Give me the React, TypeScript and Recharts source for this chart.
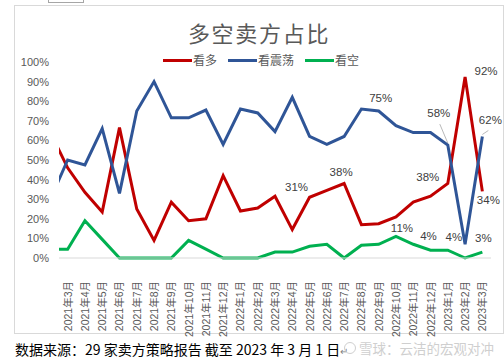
import { LineChart, Line, XAxis, YAxis, LabelList } from 'recharts'

// monthly share of sell-side reports (%), first entry sits just left of the plot edge
const MONTHS = [
  '2021年2月', '2021年3月', '2021年4月', '2021年5月', '2021年6月', '2021年7月', '2021年8月',
  '2021年9月', '2021年10月', '2021年11月', '2021年12月', '2022年1月', '2022年2月', '2022年3月',
  '2022年4月', '2022年5月', '2022年6月', '2022年7月', '2022年8月', '2022年9月', '2022年10月',
  '2022年11月', '2022年12月', '2023年1月', '2023年2月', '2023年3月',
]
const BULL = [64, 46, 33.5, 23.5, 66.5, 25, 9, 28.5, 19, 20, 42, 24, 25.5, 31.5, 14.5, 31, 34.5, 38, 17, 17.5, 21, 28.5, 31.5, 38, 92.4, 34]
const RANGE = [30, 50, 47.5, 66, 33, 75, 90, 71.5, 71.5, 75.5, 58, 76, 74, 64.5, 82, 62, 58, 62, 76, 75, 67.5, 64, 64, 57.6, 7, 62]
const BEAR = [4.5, 4.5, 19, 9.5, 0, 0, 0, 0, 9, 4.5, 0, 0, 0, 3, 3, 6, 7, 0, 6.5, 7, 11, 7, 4, 4, 0, 3]
const Y_TICKS = [0, 10, 20, 30, 40, 50, 60, 70, 80, 90, 100]

const RED = '#C00000'
const BLUE = '#2F5597'
const GREEN = '#00B050'
const TEXT = '#595959'
const NUM_FONT = '"Liberation Sans", Arial, sans-serif'
const CJK_FONT = '"Noto Sans CJK SC", "Noto Sans", sans-serif'

const data = MONTHS.map((month, k) => ({
  i: k - 1,
  month,
  bull: BULL[k],
  range: RANGE[k],
  bear: BEAR[k],
}))
const xTicks = data.filter(d => d.i >= 0).map(d => d.i)

type Pos = { dx: number; dy: number; leader?: [number, number] }
// where each shown data label sits relative to its point
const RED_LABELS: Record<number, Pos> = {
  14: { dx: -13, dy: -10 },
  16: { dx: -3, dy: -12 },
  22: { dx: -20, dy: -7 },
  23: { dx: 21, dy: -6 },
  24: { dx: 6, dy: 9 },
}
const BLUE_LABELS: Record<number, Pos> = {
  18: { dx: 2, dy: -13 },
  22: { dx: -9, dy: -32, leader: [-8, -21] },
  24: { dx: 8, dy: -16, leader: [6, -6] },
}
const GREEN_LABELS: Record<number, Pos> = {
  19: { dx: 6, dy: -8 },
  21: { dx: -2, dy: -14 },
  22: { dx: 6, dy: -13 },
  24: { dx: 1, dy: -14 },
}

function makeLabel(conf: Record<number, Pos>) {
  return (props: any) => {
    const { x, y, index, value } = props
    const row = data[index]
    if (!row) return null
    const p = conf[row.i]
    if (!p) return null
    return (
      <g key={`l-${index}`}>
        {p.leader && (
          <line x1={x + p.leader[0]} y1={y + p.leader[1]} x2={x} y2={y - 2} stroke="#a6a6a6" strokeWidth={0.8} />
        )}
        <text
          x={x + p.dx}
          y={y + p.dy}
          textAnchor="middle"
          dominantBaseline="central"
          fontSize={11.5}
          fontFamily={NUM_FONT}
          fill="#404040"
        >
          {`${Math.round(value)}%`}
        </text>
      </g>
    )
  }
}

function MonthTick(props: any) {
  const { x, y, payload } = props
  const label = MONTHS[payload.value + 1]
  return (
    <text
      transform={`translate(${x},${y + 15}) rotate(-90)`}
      textAnchor="end"
      dominantBaseline="central"
      fontSize={10.5}
      fontFamily={NUM_FONT + ', "Noto Sans CJK SC"'}
      fill={TEXT}
    >
      {label}
    </text>
  )
}

const LEGEND = [
  { name: '看多', color: RED },
  { name: '看震荡', color: BLUE },
  { name: '看空', color: GREEN },
]

export default function App() {
  return (
    <div style={{ position: 'absolute', left: 0, top: 0, width: 504, height: 358, background: '#fff', overflow: 'hidden' }}>
      <div style={{ position: 'absolute', left: 48, top: -2, width: 34, height: 4, border: '1px solid #a6a6a6', borderTop: 'none' }} />
      <div style={{ position: 'absolute', left: 14, top: 5, width: 488, height: 327, border: '1px solid #d9d9d9' }} />

      <div style={{
        position: 'absolute', left: 0, width: 518, top: 18, textAlign: 'center',
        fontFamily: CJK_FONT, fontSize: 22, letterSpacing: 1.7, color: TEXT, lineHeight: '28px',
      }}>
        多空卖方占比
      </div>

      <div style={{ position: 'absolute', left: 163, top: 52, display: 'flex', gap: 11, alignItems: 'center' }}>
        {LEGEND.map(item => (
          <div key={item.name} style={{ display: 'flex', alignItems: 'center', gap: 1 }}>
            <div style={{ width: 29, height: 3, background: item.color }} />
            <span style={{ fontFamily: CJK_FONT, fontSize: 12, color: TEXT, lineHeight: '16px' }}>{item.name}</span>
          </div>
        ))}
      </div>

      <div style={{ position: 'absolute', left: 0, top: 0 }}>
        <LineChart width={504} height={340} data={data} margin={{ top: 62, right: 13, bottom: 7, left: 9 }}>
          <XAxis
            type="number"
            dataKey="i"
            domain={[-0.5, 24.5]}
            allowDataOverflow
            ticks={xTicks}
            interval={0}
            height={75}
            tick={<MonthTick />}
            tickLine={false}
            axisLine={{ stroke: '#d9d9d9', strokeWidth: 1 }}
          />
          <YAxis
            domain={[0, 100]}
            ticks={Y_TICKS}
            width={50}
            tickFormatter={(v: number) => `${v}%`}
            tick={{ fontSize: 11, fill: TEXT, fontFamily: NUM_FONT }}
            tickMargin={4}
            axisLine={false}
            tickLine={false}
          />
          <Line type="linear" dataKey="bull" stroke={RED} strokeWidth={3} dot={false} isAnimationActive={false}>
            <LabelList dataKey="bull" content={makeLabel(RED_LABELS)} />
          </Line>
          <Line type="linear" dataKey="range" stroke={BLUE} strokeWidth={3} dot={false} isAnimationActive={false}>
            <LabelList dataKey="range" content={makeLabel(BLUE_LABELS)} />
          </Line>
          <Line type="linear" dataKey="bear" stroke={GREEN} strokeWidth={3} dot={false} isAnimationActive={false}>
            <LabelList dataKey="bear" content={makeLabel(GREEN_LABELS)} />
          </Line>
        </LineChart>
      </div>

      <div style={{
        position: 'absolute', left: 15, top: 339, fontFamily: CJK_FONT, fontSize: 14,
        color: '#000', lineHeight: '20px', whiteSpace: 'nowrap',
      }}>
        数据来源：29 家卖方策略报告 截至 2023 年 3 月 1 日<span style={{ fontSize: 10, color: '#7f7f7f' }}>↵</span>
      </div>
      <div style={{
        position: 'absolute', left: 344, top: 338, display: 'flex', alignItems: 'center', gap: 3,
        fontFamily: CJK_FONT, fontSize: 13.5, color: '#cfcfcf', lineHeight: '20px', whiteSpace: 'nowrap',
      }}>
        <span style={{ width: 10, height: 10, borderRadius: '50%', border: '1.5px solid #cfcfcf', display: 'inline-block' }} />
        雪球：云洁的宏观对冲
      </div>
    </div>
  )
}
